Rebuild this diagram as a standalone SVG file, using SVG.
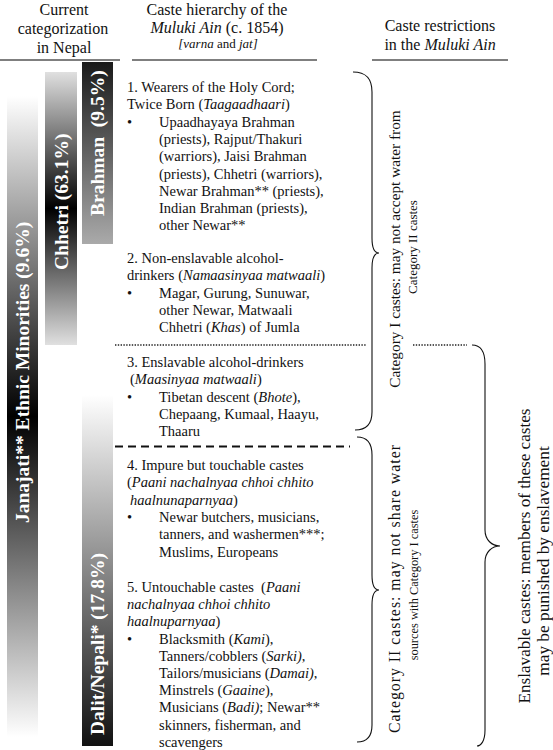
<svg xmlns="http://www.w3.org/2000/svg" width="553" height="750" viewBox="0 0 553 750">
<style>
text{font-family:"Liberation Serif","Times New Roman",serif;fill:#111}
.h{font-size:16px;text-anchor:middle}
.b{font-size:14.5px}
.bar{font-weight:bold;font-size:19.5px;fill:#fff}
.r{text-anchor:middle}
.i{font-style:italic}
.rule{stroke:#000;stroke-width:1.2;fill:none}
.brace{stroke:#111;stroke-width:1.1;fill:none}
.dot{stroke:#222;stroke-width:1.4;stroke-dasharray:1.4 1.4;fill:none}
.dash{stroke:#111;stroke-width:2;stroke-dasharray:8 5;fill:none}
</style>
<defs>
<linearGradient id="gJan" x1="0" y1="0" x2="0" y2="1">
<stop offset="0" stop-color="#fff"/><stop offset="0.5" stop-color="#000"/><stop offset="1" stop-color="#fff"/>
</linearGradient>
<linearGradient id="gChh" x1="0" y1="0" x2="0" y2="1">
<stop offset="0" stop-color="#e0e0e0"/><stop offset="0.5" stop-color="#000"/><stop offset="1" stop-color="#e0e0e0"/>
</linearGradient>
<linearGradient id="gBra" x1="0" y1="0" x2="0" y2="1">
<stop offset="0" stop-color="#1a1a1a"/><stop offset="1" stop-color="#aaa"/>
</linearGradient>
<linearGradient id="gDal" x1="0" y1="0" x2="0" y2="1">
<stop offset="0" stop-color="#fff"/><stop offset="1" stop-color="#111"/>
</linearGradient>
</defs>
<rect width="553" height="750" fill="#fff"/>

<g id="headers">
<text class="h" x="64" y="15">Current</text>
<text class="h" x="63" y="34">categorization</text>
<text class="h" x="64" y="53">in Nepal</text>
<line class="rule" x1="0" y1="60" x2="120" y2="60"/>
<text class="h" x="217" y="15">Caste hierarchy of the</text>
<text class="h" x="217" y="33"><tspan class="i">Muluki Ain</tspan> (c. 1854)</text>
<text class="h" x="218" y="48" style="font-size:13px"><tspan class="i">[varna</tspan> and <tspan class="i">jat]</tspan></text>
<line class="rule" x1="132" y1="60" x2="317" y2="60"/>
<text class="h" x="440" y="31">Caste restrictions</text>
<text class="h" x="440" y="50">in the <tspan class="i">Muluki Ain</tspan></text>
<line class="rule" x1="372" y1="60" x2="508" y2="60"/>
</g>

<g id="bar-janajati">
<rect x="7" y="96" width="31" height="641" fill="url(#gJan)"/>
<text class="bar" transform="translate(29,523) rotate(-90)">Janajati** Ethnic Minorities (9.6%)</text>
</g>
<g id="bar-chhetri">
<rect x="45" y="72" width="32" height="273" fill="url(#gChh)"/>
<text class="bar" transform="translate(68,270) rotate(-90)">Chhetri (63.1%)</text>
</g>
<g id="bar-brahman">
<rect x="82" y="62" width="31" height="182" fill="url(#gBra)"/>
<text class="bar" transform="translate(104,216) rotate(-90)" xml:space="preserve">Brahman  (9.5%)</text>
</g>
<g id="bar-dalit">
<rect x="82" y="395" width="31" height="351" fill="url(#gDal)"/>
<text class="bar" transform="translate(104,735) rotate(-90)">Dalit/Nepali* (17.8%)</text>
</g>

<g id="group1">
<text class="b" x="127" y="92">1. Wearers of the Holy Cord;</text>
<text class="b" x="127" y="109.3">Twice Born (<tspan class="i">Taagaadhaari</tspan>)</text>
<text class="b" x="127" y="126.6">•</text>
<text class="b" x="159" y="126.6">Upaadhayaya Brahman</text>
<text class="b" x="159" y="143.9">(priests), Rajput/Thakuri</text>
<text class="b" x="159" y="161.2">(warriors), Jaisi Brahman</text>
<text class="b" x="159" y="178.5">(priests), Chhetri (warriors),</text>
<text class="b" x="159" y="195.8">Newar Brahman** (priests),</text>
<text class="b" x="159" y="213.1">Indian Brahman (priests),</text>
<text class="b" x="159" y="230.4">other Newar**</text>
</g>

<g id="group2">
<text class="b" x="127" y="263">2. Non-enslavable alcohol-</text>
<text class="b" x="127" y="280.3">drinkers (<tspan class="i">Namaasinyaa matwaali</tspan>)</text>
<text class="b" x="127" y="297.6">•</text>
<text class="b" x="159" y="297.6">Magar, Gurung, Sunuwar,</text>
<text class="b" x="159" y="314.9">other Newar, Matwaali</text>
<text class="b" x="159" y="332.2">Chhetri (<tspan class="i">Khas</tspan>) of Jumla</text>
</g>

<g id="group3">
<text class="b" x="127" y="367">3. Enslavable alcohol-drinkers</text>
<text class="b" x="130" y="384.3">(<tspan class="i">Maasinyaa matwaali</tspan>)</text>
<text class="b" x="127" y="401.6">•</text>
<text class="b" x="159" y="401.6">Tibetan descent (<tspan class="i">Bhote</tspan>),</text>
<text class="b" x="159" y="418.9">Chepaang, Kumaal, Haayu,</text>
<text class="b" x="159" y="436.2">Thaaru</text>
</g>

<g id="group4">
<text class="b" x="127" y="470">4. Impure but touchable castes</text>
<text class="b" x="127" y="487.3">(<tspan class="i">Paani nachalnyaa chhoi chhito</tspan></text>
<text class="b" x="130" y="504.6"><tspan class="i">haalnunaparnyaa</tspan>)</text>
<text class="b" x="127" y="521.9">•</text>
<text class="b" x="159" y="521.9">Newar butchers, musicians,</text>
<text class="b" x="159" y="539.2">tanners, and washermen***;</text>
<text class="b" x="159" y="556.5">Muslims, Europeans</text>
</g>

<g id="group5">
<text class="b" x="127" y="592" xml:space="preserve">5. Untouchable castes  (<tspan class="i">Paani</tspan></text>
<text class="b" x="127" y="609.2"><tspan class="i">nachalnyaa chhoi chhito</tspan></text>
<text class="b" x="127" y="626.4"><tspan class="i">haalnuparnyaa</tspan>)</text>
<text class="b" x="127" y="643.6">•</text>
<text class="b" x="159" y="643.6">Blacksmith (<tspan class="i">Kami</tspan>),</text>
<text class="b" x="159" y="660.8">Tanners/cobblers (<tspan class="i">Sarki)</tspan>,</text>
<text class="b" x="159" y="678">Tailors/musicians (<tspan class="i">Damai)</tspan>,</text>
<text class="b" x="159" y="695.2">Minstrels (<tspan class="i">Gaaine</tspan>),</text>
<text class="b" x="159" y="712.4">Musicians (<tspan class="i">Badi)</tspan>; Newar**</text>
<text class="b" x="159" y="729.6">skinners, fisherman, and</text>
<text class="b" x="159" y="746.8">scavengers</text>
</g>

<g id="connectors">
<line class="dot" x1="115" y1="345" x2="367" y2="345"/>
<line class="dot" x1="413" y1="345" x2="467" y2="345"/>
<line class="dash" x1="115" y1="446.5" x2="350" y2="446.5"/>
<path class="brace" d="M353,72 C366,72 372,78 372,92 L372,238 C372,248 375,253 379,253 C375,253 372,258 372,268 L372,412 C372,424 366,430 355,430"/>
<path class="brace" d="M357,437 C367,437 372,443 372,455 L372,575 C372,585 375,590 379,590 C375,590 372,595 372,605 L372,725 C372,737 367,742 357,742"/>
<path class="brace" d="M472,345 C481,345 485,351 485,364 L485,530 C485,540 492,546 500,546 C492,546 485,552 485,562 L485,730 C485,741 481,746 477,746"/>
</g>

<g id="label-cat1">
<text class="r" transform="translate(400,249) rotate(-90)" style="font-size:15.3px">Category I castes: may not accept water from</text>
<text class="r" transform="translate(417,247) rotate(-90)" style="font-size:13px">Category II castes</text>
</g>
<g id="label-cat2">
<text class="r" transform="translate(400,589) rotate(-90)" style="font-size:15.8px" textLength="288" lengthAdjust="spacing">Category II castes: may not share water</text>
<text class="r" transform="translate(418,585) rotate(-90)" style="font-size:12.4px">sources with Category I castes</text>
</g>
<g id="label-enslavable">
<text class="r" transform="translate(530,556) rotate(-90)" style="font-size:17.1px">Enslavable castes: members of these castes</text>
<text class="r" transform="translate(549,561) rotate(-90)" style="font-size:17.3px">may be punished by enslavement</text>
</g>
</svg>
